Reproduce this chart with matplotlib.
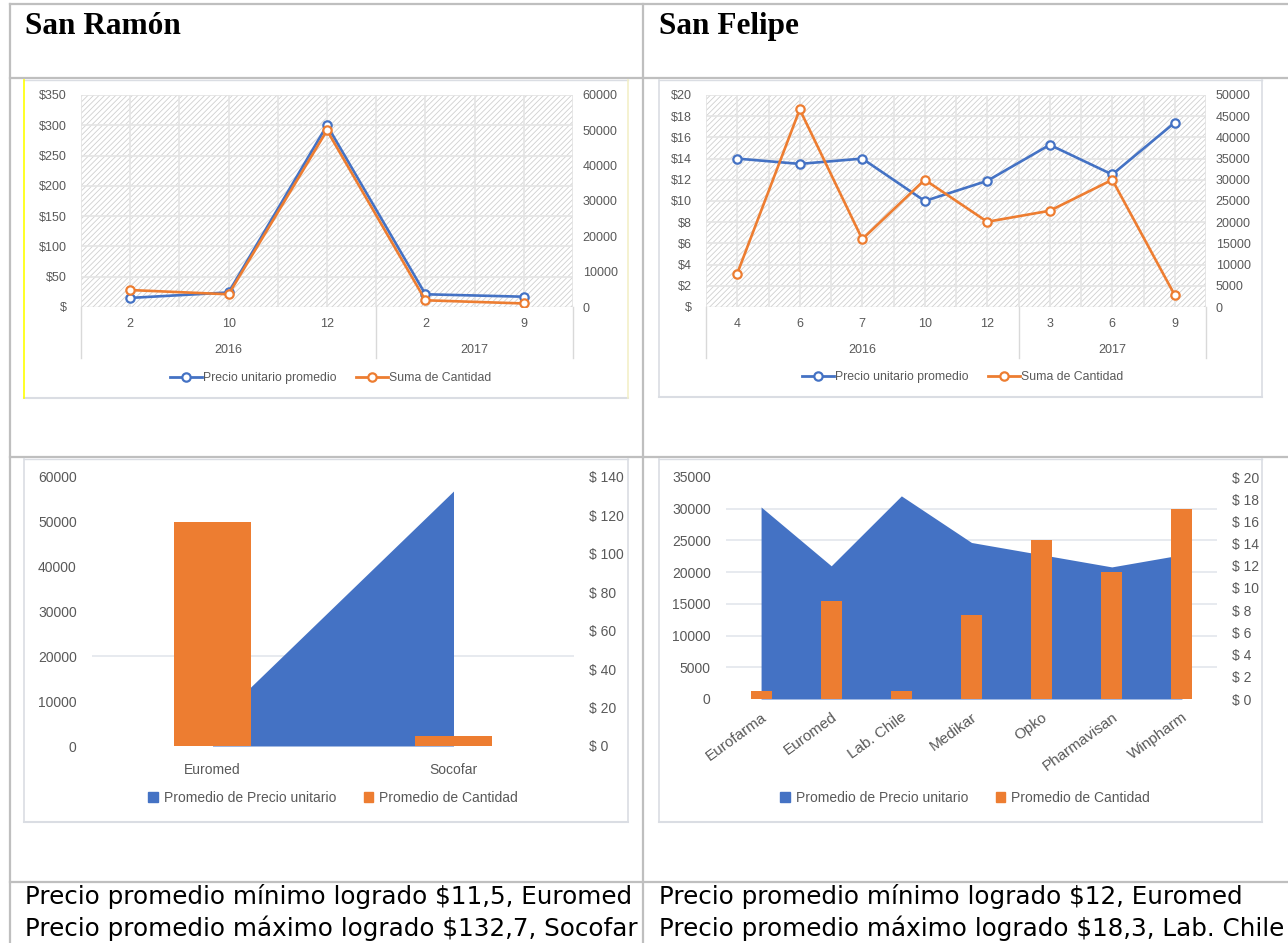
import matplotlib
matplotlib.use('Agg')
import matplotlib.pyplot as plt
import matplotlib.transforms as mtransforms
from matplotlib.patches import Rectangle
from matplotlib.lines import Line2D
import numpy as np

plt.rcParams['font.family'] = ['Liberation Sans', 'DejaVu Sans']
plt.rcParams['hatch.linewidth'] = 0.6

BLUE = '#4472C4'
ORANGE = '#ED7D31'
TXT = '#595959'
GRID = '#d9d9d9'

# San Ramon, por mes
sr_months = ['2', '10', '12', '2', '9']
sr_years = ['2016', '2016', '2016', '2017', '2017']
sr_price = [15, 24, 300, 21, 17]
sr_qty = [4800, 3600, 50000, 1900, 1000]

# San Felipe, por mes
sf_months = ['4', '6', '7', '10', '12', '3', '6', '9']
sf_years = ['2016', '2016', '2016', '2016', '2016', '2017', '2017', '2017']
sf_price = [14.0, 13.5, 14.0, 10.0, 11.9, 15.3, 12.5, 17.4]
sf_qty = [7900, 46600, 16000, 30000, 20100, 22700, 30000, 2800]

# por laboratorio
sr_labs = ['Euromed', 'Socofar']
sr_lab_price = [11.5, 132.7]
sr_lab_qty = [50000, 2200]

sf_labs = ['Eurofarma', 'Euromed', 'Lab. Chile', 'Medikar', 'Opko', 'Pharmavisan', 'Winpharm']
sf_lab_price = [17.3, 12.0, 18.3, 14.1, 13.0, 11.9, 13.0]
sf_lab_qty = [1200, 15500, 1200, 13300, 25000, 20000, 30000]

headers = ['San Ramón', 'San Felipe']
notes_sr = ['Precio promedio mínimo logrado $11,5, Euromed',
            'Precio promedio máximo logrado $132,7, Socofar']
notes_sf = ['Precio promedio mínimo logrado $12, Euromed',
            'Precio promedio máximo logrado $18,3, Lab. Chile']

W, H = 1288, 943
fig = plt.figure(figsize=(W / 100, H / 100), dpi=100)


def box(x0, y0, x1, y1):
    # pixel box -> figure fraction rect
    return [x0 / W, 1 - y1 / H, (x1 - x0) / W, (y1 - y0) / H]


def fline(xs, ys, **kw):
    fig.add_artist(Line2D([x / W for x in xs], [1 - y / H for y in ys], **kw))


def frame(x0, y0, x1, y1, left_color='#dadde3', right_color='#dadde3'):
    c = '#dadde3'
    fline([x0, x1], [y0, y0], color=c, lw=1)
    fline([x0, x1], [y1, y1], color=c, lw=1.5)
    fline([x0, x0], [y0, y1], color=left_color, lw=1.2)
    fline([x1, x1], [y0, y1], color=right_color, lw=1.2)


# table grid
tcol = '#bfbfbf'
for y in [4, 78, 457, 882]:
    fline([10, W], [y, y], color=tcol, lw=1.6)
for x in [10, 643]:
    fline([x, x], [4, H], color=tcol, lw=1.6)

for x, t in zip([25, 659], headers):
    fig.text(x / W, 1 - 34 / H, t, family='Liberation Serif', weight='bold',
             fontsize=22.5, va='baseline', ha='left')
for x, lines in zip([25, 659], [notes_sr, notes_sf]):
    for y, t in zip([904, 936], lines):
        fig.text(x / W, 1 - y / H, t, family='DejaVu Sans', fontsize=17.7,
                 va='baseline', ha='left')

frame(24, 80, 628, 398, left_color='#ffff00', right_color='#f3f0c8')
frame(659, 80, 1262, 397)
frame(24, 459, 628, 822)
frame(659, 459, 1262, 822)


def line_chart(px, months, years, price, qty, pmax, pstep, qmax, qstep, leg_x, leg_y):
    ax = fig.add_axes(box(*px))
    n = len(months)
    x = np.arange(n)
    ax.set_xlim(-0.5, n - 0.5)
    ax.set_ylim(0, pmax)
    ax.add_patch(Rectangle((0, 0), 1, 1, transform=ax.transAxes, facecolor='white',
                           edgecolor='#cfcfcf', hatch='//////', lw=0, zorder=0))
    for v in np.arange(pstep, pmax + pstep / 2, pstep):
        ax.axhline(v, color='#e4e4e4', lw=1.2, zorder=1)
    for v in np.arange(-0.5, n, 0.5):
        ax.axvline(v, color='#e4e4e4', lw=1.2, zorder=1)
    ax.axhline(0, color=GRID, lw=1, zorder=2)
    for s in ax.spines.values():
        s.set_visible(False)
    ax.set_yticks(np.arange(0, pmax + pstep / 2, pstep))
    ax.set_yticklabels(['$%d' % v if v else '$' for v in np.arange(0, pmax + pstep / 2, pstep)])
    ax.set_xticks(x, months)
    ax.tick_params(axis='both', length=0, labelsize=9, labelcolor=TXT)
    ax.tick_params(axis='y', pad=10)
    ax.tick_params(axis='x', pad=8)

    trans = mtransforms.blended_transform_factory(ax.transData, ax.transAxes)
    bounds = [-0.5]
    for i in range(1, n):
        if years[i] != years[i - 1]:
            bounds.append(i - 0.5)
    bounds.append(n - 0.5)
    for b in bounds:
        ax.plot([b, b], [0, -0.24], transform=trans, color=GRID, lw=1, clip_on=False)
    for a, b in zip(bounds[:-1], bounds[1:]):
        yr = years[int(a + 0.5)]
        ax.text((a + b) / 2, -0.205, yr, transform=trans, ha='center', va='center',
                fontsize=9, color=TXT)

    ax.plot(x, price, color=BLUE, lw=1.9, marker='o', ms=6, mfc='white', mew=1.6, zorder=3)

    ax2 = ax.twinx()
    ax2.set_ylim(0, qmax)
    ax2.set_yticks(np.arange(0, qmax + qstep / 2, qstep))
    ax2.tick_params(axis='y', length=0, labelsize=9, labelcolor=TXT, pad=7)
    for s in ax2.spines.values():
        s.set_visible(False)
    ax2.plot(x, qty, color=ORANGE, lw=1.9, marker='o', ms=6, mfc='white', mew=1.6, zorder=3)

    handles = [Line2D([], [], color=BLUE, lw=2, marker='o', ms=6, mfc='white', mew=1.6),
               Line2D([], [], color=ORANGE, lw=2, marker='o', ms=6, mfc='white', mew=1.6)]
    fig.legend(handles, ['Precio unitario promedio', 'Suma de Cantidad'], ncol=2,
               loc='center', bbox_to_anchor=(leg_x / W, 1 - leg_y / H), frameon=False,
               fontsize=8.8, labelcolor=TXT, handlelength=2.6, columnspacing=1.6,
               handletextpad=0.1)


def combo_chart(px, labs, price, qty, qmax, qstep, pmax, pstep, grid_vals, rotate,
                bar_w, leg_x, leg_y):
    ax = fig.add_axes(box(*px))
    n = len(labs)
    x = np.arange(n)
    ax.set_xlim(-0.5, n - 0.5)
    ax.set_ylim(0, qmax)
    ax.set_yticks(np.arange(0, qmax + qstep / 2, qstep))
    for s in ax.spines.values():
        s.set_visible(False)
    for v in grid_vals:
        ax.axhline(v, color='#e3e6ec', lw=1.2, zorder=0.5)

    ax2 = ax.twinx()
    ax2.set_ylim(0, pmax)
    pt = np.arange(0, pmax + pstep / 2, pstep)
    ax2.set_yticks(pt)
    ax2.set_yticklabels(['$ %d' % v for v in pt])
    for s in ax2.spines.values():
        s.set_visible(False)

    # area on the price scale, drawn inside the bar axes so the bars sit on top
    ax.fill_between(x, price, 0, color=BLUE, lw=0, zorder=1, transform=ax2.transData)
    ax.bar(x, qty, width=bar_w, color=ORANGE, zorder=2)

    ax.tick_params(axis='both', length=0, labelsize=10, labelcolor=TXT)
    if rotate:
        ax.set_xticks(x, labs, rotation=36, ha='right', rotation_mode='anchor', fontsize=11)
        ax.tick_params(axis='x', pad=8)
    else:
        ax.set_xticks(x, labs)
        ax.tick_params(axis='x', pad=12)
    ax.tick_params(axis='y', pad=11)
    ax2.tick_params(axis='y', length=0, labelsize=10, labelcolor=TXT, pad=11)

    handles = [Rectangle((0, 0), 1, 1, color=BLUE), Rectangle((0, 0), 1, 1, color=ORANGE)]
    fig.legend(handles, ['Promedio de Precio unitario', 'Promedio de Cantidad'], ncol=2,
               loc='center', bbox_to_anchor=(leg_x / W, 1 - leg_y / H), frameon=False,
               fontsize=10, labelcolor=TXT, handlelength=0.7, handleheight=0.7,
               columnspacing=2.0, handletextpad=0.4)


line_chart((81, 95, 573, 307), sr_months, sr_years, sr_price, sr_qty,
           350, 50, 60000, 10000, 331, 378)
line_chart((706, 95, 1206, 307), sf_months, sf_years, sf_price, sf_qty,
           20, 2, 50000, 5000, 963, 377)
combo_chart((92, 477, 574, 746), sr_labs, sr_lab_price, sr_lab_qty,
            60000, 10000, 140, 20, [20000], False, 0.32, 333, 798)
combo_chart((726, 477, 1217, 699), sf_labs, sf_lab_price, sf_lab_qty,
            35000, 5000, 20, 2, [5000, 10000, 15000, 20000, 25000, 30000], True, 0.30,
            965, 798)

fig.savefig('out.png', dpi=100)
